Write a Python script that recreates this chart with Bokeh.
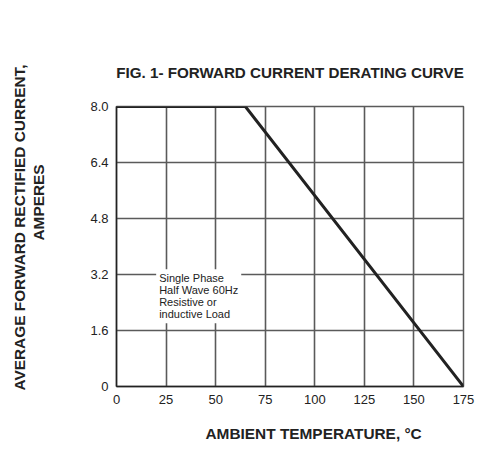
from bokeh.embed import file_html
from bokeh.models import FixedTicker, Label, Title
from bokeh.plotting import figure
from bokeh.resources import INLINE

FONT = "Liberation Sans"
INK = "#222222"
GRID = "#5a5a5a"

# derating curve: flat at 8 A up to ~65 degC, then linear to zero at 175 degC
temperature = [0, 65, 175]
current = [8.0, 8.0, 0.0]

x_ticks = [0, 25, 50, 75, 100, 125, 150, 175]
y_ticks = [0, 1.6, 3.2, 4.8, 6.4, 8.0]
y_tick_labels = ["0", "1.6", "3.2", "4.8", "6.4", "8.0"]

note_lines = ["Single Phase", "Half Wave 60Hz", "Resistive or", "inductive Load"]
note_x, note_y = 20, 3.35

p = figure(
    width=503, height=460, title="FIG. 1- FORWARD CURRENT DERATING CURVE",
    x_range=(0, 175), y_range=(0, 8),
    toolbar_location=None, output_backend="svg",
    min_border_left=116, min_border_right=40, min_border_top=106, min_border_bottom=74,
    background_fill_color="white", border_fill_color="white",
)
p.outline_line_color = GRID
p.outline_line_width = 1.5

p.title.align = "center"
p.title.text_font = FONT
p.title.text_font_size = "15.2px"
p.title.text_color = INK
p.title.standoff = 52

for axis in (p.xaxis[0], p.yaxis[0]):
    axis.axis_line_color = INK
    axis.axis_line_width = 1.5
    axis.major_tick_line_color = None
    axis.minor_tick_line_color = None
    axis.major_tick_out = 0
    axis.major_label_text_font = FONT
    axis.major_label_text_font_size = "13px"
    axis.major_label_text_color = INK

p.xaxis.ticker = FixedTicker(ticks=x_ticks)
p.yaxis.ticker = FixedTicker(ticks=y_ticks)
p.yaxis.major_label_overrides = dict(zip(y_ticks, y_tick_labels))
p.xaxis.major_label_standoff = 8
p.yaxis.major_label_standoff = 8
# blank axis label only widens the y axis panel, pushing the titles outward
p.yaxis.axis_label = "\u00a0"
p.yaxis.axis_label_text_font_size = "1px"
p.yaxis.axis_label_standoff = 37


# axis titles sit off-centre in the original, so they are side titles
def side_title(text, offset, standoff, size="15.4px"):
    return Title(
        text=text, align="left", offset=offset, standoff=standoff,
        text_font=FONT, text_font_size=size, text_font_style="bold",
        text_color=INK,
    )


p.add_layout(side_title("AMBIENT TEMPERATURE, \u00b0C", 89, 33), "below")
p.add_layout(side_title("AMPERES", 146, 0), "left")
p.add_layout(side_title("AVERAGE FORWARD RECTIFIED CURRENT,", -4, 0), "left")

p.grid.grid_line_color = GRID
p.grid.grid_line_width = 1.6
p.grid.grid_line_alpha = 1.0

p.line(temperature, current, line_color=INK, line_width=3)

note = Label(
    x=note_x, y=note_y, text="\n".join(note_lines),
    text_font=FONT, text_font_size="11px", text_color=INK,
    text_baseline="top", text_align="left", text_line_height=1.0,
    background_fill_color="white", padding=3,
)
p.add_layout(note)

open("out.html", "w").write(file_html(p, INLINE))
